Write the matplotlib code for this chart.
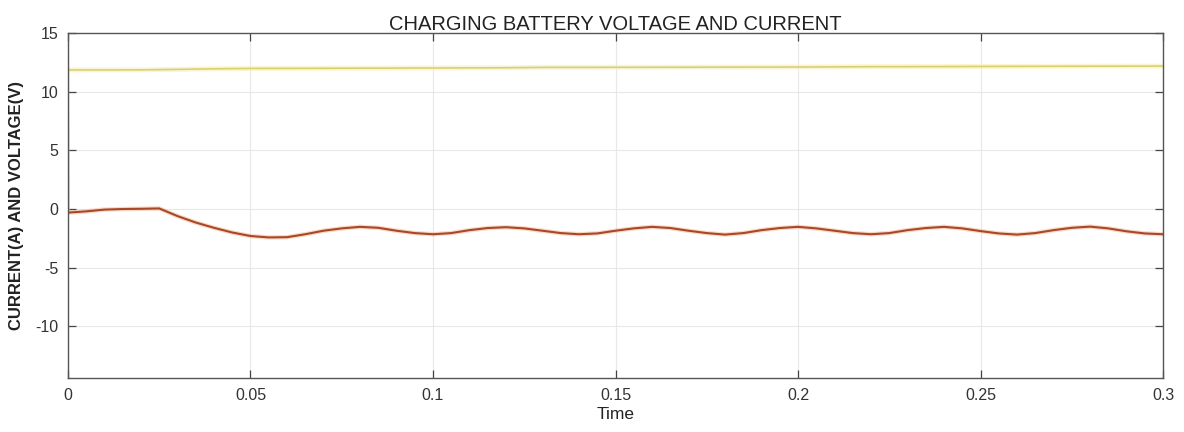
import matplotlib
matplotlib.use("Agg")
import matplotlib.pyplot as plt

# ---- data ----
t_current = [0.0, 0.0003, 0.005, 0.01, 0.015, 0.02, 0.025, 0.03, 0.035, 0.04, 0.045,
             0.05, 0.055, 0.06, 0.065, 0.07, 0.075, 0.08, 0.085, 0.09, 0.095,
             0.1, 0.105, 0.11, 0.115, 0.12, 0.125, 0.13, 0.135, 0.14, 0.145,
             0.15, 0.155, 0.16, 0.165, 0.17, 0.175, 0.18, 0.185, 0.19, 0.195,
             0.2, 0.205, 0.21, 0.215, 0.22, 0.225, 0.23, 0.235, 0.24, 0.245,
             0.25, 0.255, 0.26, 0.265, 0.27, 0.275, 0.28, 0.285, 0.29, 0.295, 0.3]
current = [16.0, -0.3, -0.2, -0.05, 0.0, 0.02, 0.05, -0.6, -1.15, -1.6, -2.0,
           -2.3, -2.42, -2.4, -2.15, -1.85, -1.65, -1.52, -1.6, -1.85, -2.05,
           -2.15, -2.05, -1.8, -1.62, -1.55, -1.65, -1.85, -2.05, -2.15, -2.08,
           -1.85, -1.65, -1.52, -1.62, -1.85, -2.05, -2.18, -2.05, -1.8, -1.62,
           -1.52, -1.65, -1.85, -2.05, -2.15, -2.05, -1.8, -1.62, -1.52, -1.65,
           -1.88, -2.08, -2.18, -2.05, -1.8, -1.6, -1.5, -1.65, -1.9, -2.08, -2.15]

t_voltage = [0.0, 0.02, 0.03, 0.04, 0.05, 0.08, 0.1, 0.12, 0.13, 0.16, 0.2,
             0.22, 0.24, 0.26, 0.28, 0.3]
voltage = [11.85, 11.86, 11.9, 11.95, 11.98, 12.0, 12.02, 12.04, 12.07, 12.08, 12.1,
           12.13, 12.14, 12.16, 12.17, 12.18]

title = "CHARGING BATTERY VOLTAGE AND CURRENT"
xlabel = "Time"
ylabel = "CURRENT(A) AND VOLTAGE(V)"
xticks = [0, 0.05, 0.1, 0.15, 0.2, 0.25, 0.3]
xticklabels = ["0", "0.05", "0.1", "0.15", "0.2", "0.25", "0.3"]
yticks = [-10, -5, 0, 5, 10, 15]

plt.rcParams['font.family'] = ['Liberation Sans', 'DejaVu Sans']
plt.rcParams['axes.unicode_minus'] = False

fig = plt.figure(figsize=(11.84, 4.32), dpi=100)
ax = fig.add_axes([0.0574, 0.125, 0.9249, 0.7986])

# voltage (yellow) with soft halo
ax.plot(t_voltage, voltage, color='#F5EDB8', lw=3.5, alpha=0.6)
ax.plot(t_voltage, voltage, color='#D8CE6A', lw=1.1)
# current (orange/red) with halo
ax.plot(t_current[:2], current[:2], color='#F2B08C', lw=1.2, alpha=0.7)
ax.plot(t_current[1:], current[1:], color='#F5A070', lw=3.2, alpha=0.4)
ax.plot(t_current[1:], current[1:], color='#A84828', lw=1.5)

ax.set_xlim(0, 0.3)
ax.set_ylim(-14.4, 15)
ax.set_xticks(xticks)
ax.set_xticklabels(xticklabels)
ax.set_yticks(yticks)

ax.grid(True, color='#E8E8E8', lw=0.8)
ax.set_axisbelow(True)
for s in ax.spines.values():
    s.set_color('#555555')
    s.set_linewidth(1.0)
ax.tick_params(direction='in', top=True, right=True, length=6, width=0.9,
               colors='#444444', labelsize=11.5, labelcolor='#333333', pad=7)

ax.set_title(title, fontsize=14.5, color='#222222', pad=2)
ax.set_xlabel(xlabel, fontsize=12.5, color='#222222', labelpad=3)
ax.set_ylabel(ylabel, fontsize=12, fontweight='bold', color='#222222', labelpad=8)

fig.savefig("out.png", dpi=100, facecolor='white')
